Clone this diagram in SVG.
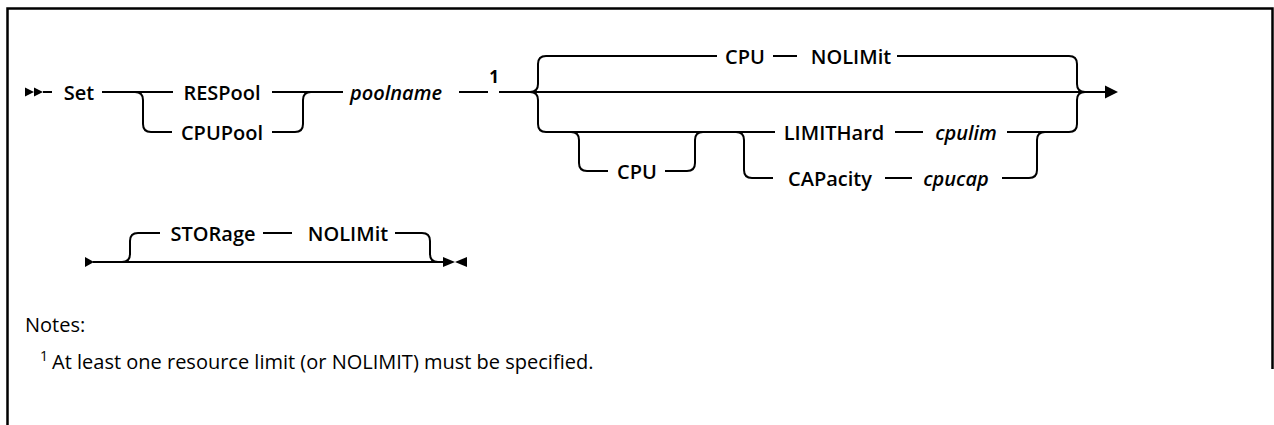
<svg xmlns="http://www.w3.org/2000/svg" width="1274" height="425" viewBox="0 0 1274 425">
<style>
.ln{fill:none;stroke:#000;stroke-width:2}
.bd{fill:none;stroke:#000;stroke-width:2.5}
.kw{font-family:"Open Sans","Noto Sans",sans-serif;font-size:20px;font-weight:600;fill:#000;text-anchor:middle;dominant-baseline:central}
.var{font-family:"Open Sans","Noto Sans",sans-serif;font-size:20px;font-weight:600;font-style:italic;fill:#000;text-anchor:middle;dominant-baseline:central}
.sup{font-family:"Open Sans","Noto Sans",sans-serif;font-size:17px;font-weight:700;fill:#000;text-anchor:middle;dominant-baseline:central}
.note{font-family:"Open Sans","Noto Sans",sans-serif;font-size:20px;fill:#000;dominant-baseline:central}
.ah{fill:#000}
</style>
<rect width="1274" height="425" fill="#fff"/>
<path class="bd" d="M7.5,425 V8.5 H1272.5 V369"/>
<g id="connectors">
<polygon class="ah" points="25,87.5 34,92 25,96.5"/>
<polygon class="ah" points="34,87.5 43,92 34,96.5"/>
<path class="ln" d="M43,92 H52"/>
<path class="ln" d="M102,92 H173"/>
<path class="ln" d="M135,92 Q143,92 143,100 V124 Q143,132 151,132 H172"/>
<path class="ln" d="M272,92 H343"/>
<path class="ln" d="M272,132 H295 Q303,132 303,124 V100 Q303,92 311,92"/>
<path class="ln" d="M459,92 H488"/>
<path class="ln" d="M499,92 H1105"/>
<path class="ln" d="M530,92 Q538,92 538,84 V64 Q538,56 546,56 H717"/>
<path class="ln" d="M530,92 Q538,92 538,100 V124 Q538,132 546,132 H775"/>
<path class="ln" d="M773,56 H797"/>
<path class="ln" d="M897,56 H1069 Q1077,56 1077,64 V84 Q1077,92 1085,92"/>
<path class="ln" d="M571,132 Q579,132 579,140 V163 Q579,171 587,171 H608"/>
<path class="ln" d="M665,171 H687 Q695,171 695,163 V140 Q695,132 703,132"/>
<path class="ln" d="M736,132 Q744,132 744,140 V170 Q744,178 752,178 H773"/>
<path class="ln" d="M895,132 H923"/>
<path class="ln" d="M1007,132 H1069 Q1077,132 1077,124 V100 Q1077,92 1085,92"/>
<path class="ln" d="M885,178 H912"/>
<path class="ln" d="M1002,178 H1029 Q1037,178 1037,170 V140 Q1037,132 1045,132"/>
<polygon class="ah" points="1105,85.5 1118,92 1105,98.5"/>
<polygon class="ah" points="85,257 94,262 85,267"/>
<path class="ln" d="M93,262 H443"/>
<path class="ln" d="M122,262 Q130,262 130,254 V241 Q130,233 138,233 H160"/>
<path class="ln" d="M263,233 H292"/>
<path class="ln" d="M395,233 H422 Q430,233 430,241 V254 Q430,262 438,262"/>
<polygon class="ah" points="443,257 455,262 443,267"/>
<polygon class="ah" points="467,257 455,262 467,267"/>
</g>
<g id="n-set"><text class="kw" x="79" y="92">Set</text></g>
<g id="n-respool"><text class="kw" x="222" y="92">RESPool</text></g>
<g id="n-cpupool"><text class="kw" x="222" y="132">CPUPool</text></g>
<g id="n-poolname"><text class="var" x="396" y="92">poolname</text></g>
<g id="n-note1"><text class="sup" x="494" y="76">1</text></g>
<g id="n-cpu1"><text class="kw" x="745" y="56">CPU</text></g>
<g id="n-nolimit1"><text class="kw" x="851" y="56">NOLIMit</text></g>
<g id="n-cpu2"><text class="kw" x="637" y="171">CPU</text></g>
<g id="n-limithard"><text class="kw" x="834" y="132">LIMITHard</text></g>
<g id="n-cpulim"><text class="var" x="966" y="132">cpulim</text></g>
<g id="n-capacity"><text class="kw" x="830" y="178">CAPacity</text></g>
<g id="n-cpucap"><text class="var" x="956" y="178">cpucap</text></g>
<g id="n-storage"><text class="kw" x="213" y="233">STORage</text></g>
<g id="n-nolimit2"><text class="kw" x="348" y="233">NOLIMit</text></g>
<g id="notes">
<text class="note" x="25" y="324">Notes:</text>
<text class="note" x="40" y="361"><tspan font-size="14" dy="-6">1</tspan><tspan dx="4" dy="6">At least one resource limit (or NOLIMIT) must be specified.</tspan></text>
</g>
</svg>
